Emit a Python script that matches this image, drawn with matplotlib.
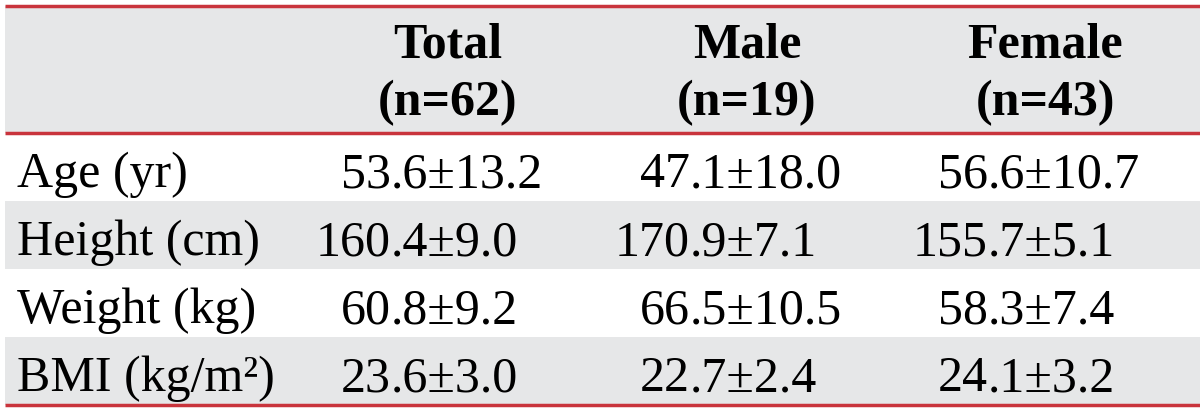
import matplotlib.pyplot as plt

plt.rcParams.update({'font.family': ['Liberation Serif', 'DejaVu Serif'], 'font.size': 36})

# table contents
groups = ['Total', 'Male', 'Female']
group_n = [62, 19, 43]
row_labels = ['Age (yr)', 'Height (cm)', 'Weight (kg)', 'BMI (kg/m\u00b2)']
means = [[53.6, 47.1, 56.6],
         [160.4, 170.9, 155.7],
         [60.8, 66.5, 58.3],
         [23.6, 22.7, 24.1]]
sds = [[13.2, 18.0, 10.7],
       [9.0, 7.1, 5.1],
       [9.2, 10.5, 7.4],
       [3.0, 2.4, 3.2]]

W, H = 1200, 409
red = '#c9343c'
grey = '#e6e7e8'

fig = plt.figure(figsize=(W / 100, H / 100), dpi=100)
ax = fig.add_axes([0, 0, 1, 1])
ax.set_xlim(0, W)
ax.set_ylim(H, 0)
ax.axis('off')

x0, x1 = 5, 1200
head_top, head_bot = 6, 133
row_h = 68
col_center = [448, 747, 1045]
dec_offset = -57  # decimal point sits left of the header centre

# header band
ax.axhspan(head_top, head_bot, xmin=x0 / W, xmax=x1 / W, color=grey, lw=0)
for i in range(len(row_labels)):
    top = head_bot + i * row_h
    if i % 2 == 1:
        ax.axhspan(top, top + row_h, xmin=x0 / W, xmax=x1 / W, color=grey, lw=0)

for c, (g, n) in enumerate(zip(groups, group_n)):
    ax.text(col_center[c], 57, g, ha='center', va='baseline', fontweight='bold')
    ax.text(col_center[c], 115, f'(n={n})', ha='center', va='baseline', fontweight='bold')

for i, lab in enumerate(row_labels):
    base = head_bot + i * row_h + 54
    ax.text(17, base, lab, ha='left', va='baseline')
    for c in range(len(groups)):
        whole, frac = f'{means[i][c]:.1f}'.split('.')
        xd = col_center[c] + dec_offset
        ax.text(xd, base, whole, ha='right', va='baseline')
        ax.text(xd, base, f'.{frac}\u00b1{sds[i][c]:.1f}', ha='left', va='baseline')

end_y = head_bot + len(row_labels) * row_h
for y in [head_top, head_bot, end_y]:
    ax.plot([x0, x1], [y, y], color=red, lw=2.5, solid_capstyle='butt')

fig.savefig('out.png', dpi=100)
